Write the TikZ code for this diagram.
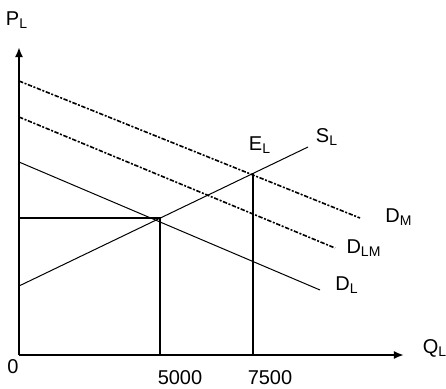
\documentclass[tikz,border=0pt]{standalone}
\usepackage{fontspec}
\setmainfont{Liberation Sans}
\usetikzlibrary{arrows.meta}

\begin{document}
\begin{tikzpicture}[
    x=0.5pt, y=0.5pt,
    label/.style={
        font=\fontsize{10}{12}\selectfont,
        inner sep=0pt
    },
    axis/.style={line width=1pt, -{Latex[length=5pt, width=4pt]}},
    demand/.style={line width=0.8pt, dash pattern=on 2.2pt off 0.8pt on 1pt off 0.8pt},
    curve/.style={line width=0.5pt},
    guide/.style={line width=1pt}
]
\useasboundingbox (0, 0) rectangle (446, 388);

% Axes
\coordinate (O) at (19, 33);
\coordinate (ytop) at (19, 341);
\coordinate (xend) at (404, 33);
\draw[axis] (O) -- (ytop);
\draw[axis] (O) -- (xend);

% Demand and supply lines
\coordinate (dm0) at (19, 307);
\coordinate (dm1) at (360, 170);
\coordinate (dlm0) at (19, 271);
\coordinate (dlm1) at (335, 140);
\coordinate (dl0) at (19, 226);
\coordinate (dl1) at (320, 98);
\coordinate (sl0) at (19, 102);
\coordinate (sl1) at (308, 241);
\draw[demand] (dm0) -- (dm1);
\draw[demand] (dlm0) -- (dlm1);
\draw[curve] (dl0) -- (dl1);
\draw[curve] (sl0) -- (sl1);

% Equilibrium guides
\coordinate (A) at (160, 170);
\coordinate (E) at (253, 215);
\draw[guide] (19, 170) -- (A) -- (160, 33);
\draw[guide] (E) -- (253, 33);

% Labels
\node[label] (pl) at (17, 368) {P\textsubscript{L}};
\node[label] (ql) at (435, 40) {Q\textsubscript{L}};
\node[label] (zero) at (13, 21) {0};
\node[label] (q1) at (180, 10) {5000};
\node[label] (q2) at (270, 10) {7500};
\node[label] (el) at (260, 243) {E\textsubscript{L}};
\node[label] (slab) at (327, 251) {S\textsubscript{L}};
\node[label] (dmlab) at (399, 171) {D\textsubscript{M}};
\node[label] (dlmlab) at (364, 140) {D\textsubscript{LM}};
\node[label] (dllab) at (347, 103) {D\textsubscript{L}};

\end{tikzpicture}
\end{document}
